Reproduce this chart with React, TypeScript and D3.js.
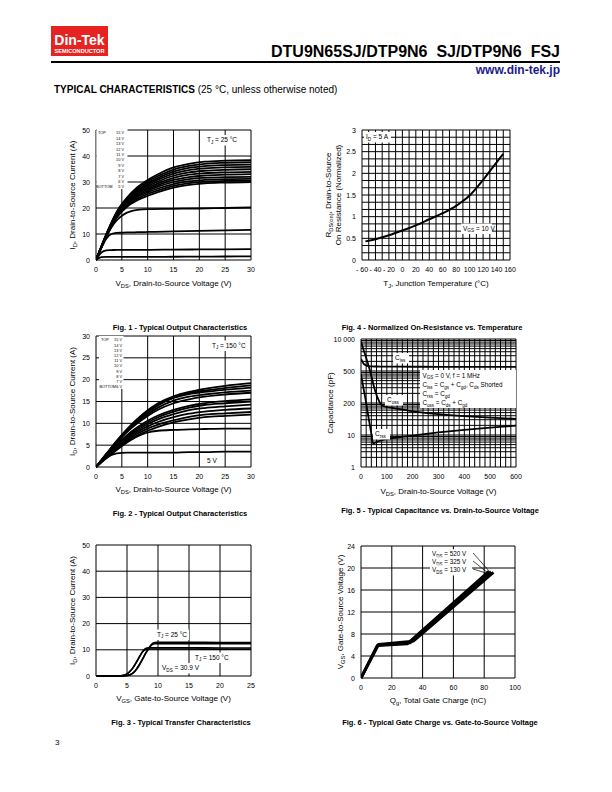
import React from "react";
import * as d3 from "d3";

const FONT = "'Liberation Sans', Arial, Helvetica, sans-serif";

// ---------------- Fig. 1 data (TJ = 25 °C output characteristics) ----------------
const fig1VdsA = [0, 2, 4, 6, 8, 10, 12, 15, 18, 21, 25, 30];
const fig1Bundle = [
  [0, 10, 18.5, 24, 28, 30.8, 33, 35.6, 37, 37.8, 38.2, 38.4],
  [0, 9.9, 18.3, 23.7, 27.5, 30.2, 32.3, 34.8, 36.2, 37, 37.4, 37.6],
  [0, 9.8, 18.1, 23.4, 27.1, 29.6, 31.6, 34, 35.4, 36.1, 36.5, 36.7],
  [0, 9.7, 17.9, 23.1, 26.6, 29, 30.9, 33.2, 34.6, 35.2, 35.6, 35.8],
  [0, 9.6, 17.7, 22.8, 26.2, 28.4, 30.2, 32.4, 33.7, 34.3, 34.7, 34.9],
  [0, 9.5, 17.5, 22.5, 25.7, 27.8, 29.5, 31.6, 32.8, 33.4, 33.7, 33.9],
  [0, 9.4, 17.3, 22.1, 25.2, 27.2, 28.8, 30.8, 31.9, 32.5, 32.8, 33],
  [0, 9.3, 17.1, 21.7, 24.7, 26.6, 28.2, 30, 31.1, 31.6, 31.9, 32],
  [0, 9.2, 16.9, 21.3, 24.2, 26, 27.5, 29.2, 30.3, 30.8, 31.1, 31.2],
  [0, 9.1, 16.6, 20.9, 23.6, 25.4, 26.8, 28.5, 29.6, 30.1, 30.4, 30.5],
  [0, 9, 16.3, 20.5, 23, 24.7, 26.1, 27.8, 28.9, 29.5, 29.8, 30],
];
const fig1VdsB = [0, 1, 2, 3, 4, 5, 6, 7, 8, 9, 10, 15, 20, 25, 30];
const fig1Low = [
  [0, 4.6, 9, 12.6, 15.2, 17, 18.2, 18.9, 19.3, 19.5, 19.6, 19.7, 19.8, 20, 20.2],
  [0, 4.5, 8.2, 10, 10.4, 10.5, 10.6, 10.6, 10.7, 10.7, 10.8, 11, 11.2, 11.4, 11.6],
  [0, 2.8, 3.7, 3.8, 3.9, 3.9, 3.9, 3.9, 3.9, 3.9, 3.9, 4, 4.05, 4.1, 4.2],
  [0, 1.1, 1.2, 1.2, 1.2, 1.2, 1.2, 1.2, 1.2, 1.2, 1.2, 1.25, 1.3, 1.35, 1.4],
];
const fig1XTicks = [0, 5, 10, 15, 20, 25, 30];
const fig1YTicks = [0, 10, 20, 30, 40, 50];
const fig1Legend = ["15 V", "14 V", "13 V", "12 V", "11 V", "10 V", "9 V", "8 V", "7 V", "6 V", "5 V"];

// ---------------- Fig. 2 data (TJ = 150 °C) ----------------
const fig2Vds = [0, 2, 4, 6, 8, 10, 12, 15, 18, 21, 25, 30];
const fig2Curves = [
  [0, 3, 6, 8.7, 11, 13, 14.6, 16.2, 17.2, 17.9, 18.6, 19.2],
  [0, 3, 5.9, 8.5, 10.8, 12.7, 14.3, 15.9, 16.9, 17.5, 18.1, 18.7],
  [0, 2.9, 5.8, 8.4, 10.6, 12.5, 14.1, 15.8, 16.7, 17.2, 17.7, 18.2],
  [0, 2.9, 5.7, 8.2, 10.3, 12.1, 13.6, 15.2, 16.1, 16.6, 17.1, 17.5],
  [0, 2.8, 5.5, 8, 10, 11.7, 13.1, 14.6, 15.5, 16.1, 16.6, 17],
  [0, 2.6, 5.1, 7.3, 9.1, 10.6, 11.8, 13.1, 14, 14.6, 15.1, 15.5],
  [0, 2.5, 4.9, 7, 8.8, 10.2, 11.4, 12.7, 13.6, 14.2, 14.6, 15],
  [0, 2.4, 4.7, 6.7, 8.4, 9.8, 10.9, 12.1, 13, 13.5, 13.9, 14.3],
  [0, 2.3, 4.5, 6.4, 8, 9.3, 10.3, 11.4, 12.2, 12.7, 13.1, 13.4],
  [0, 2.2, 4.3, 6.1, 7.6, 8.8, 9.7, 10.7, 11.5, 12, 12.3, 12.6],
  [0, 2.1, 4.1, 5.8, 7.2, 8.3, 9.2, 10.2, 10.9, 11.4, 11.7, 12],
  [0, 2, 3.9, 5.6, 7, 7.9, 8.3, 8.5, 8.6, 8.7, 8.8, 8.8],
  [0, 2.1, 3.1, 3.3, 3.3, 3.3, 3.3, 3.3, 3.4, 3.4, 3.5, 3.5],
];
const fig2XTicks = [0, 5, 10, 15, 20, 25, 30];
const fig2YTicks = [0, 5, 10, 15, 20, 25, 30];
const fig2Legend = ["15 V", "14 V", "13 V", "12 V", "11 V", "10 V", "9 V", "8 V", "7 V", "6 V"];

// ---------------- Fig. 3 data (transfer) ----------------
const fig3Vgs = [0, 3, 4, 4.5, 5, 5.5, 6, 6.5, 7, 7.5, 8, 8.5, 9, 9.5, 10, 15, 20, 25];
const fig3Id25a = [0, 0, 0, 0.05, 0.2, 0.5, 1.2, 2.5, 4.3, 6.4, 8.6, 10.6, 12.2, 12.8, 12.9, 12.9, 12.8, 12.8];
const fig3Id25b = [0, 0, 0, 0.05, 0.2, 0.5, 1.2, 2.5, 4.3, 6.4, 8.6, 10.5, 11.9, 12.3, 12.3, 12.3, 12.3, 12.3];
const fig3Id150a = [0, 0, 0.1, 0.3, 0.8, 1.8, 3.3, 5.2, 7.3, 9.3, 10.5, 10.8, 10.8, 10.8, 10.8, 10.8, 10.7, 10.7];
const fig3Id150b = [0, 0, 0.1, 0.3, 0.8, 1.8, 3.3, 5.2, 7.3, 9.2, 10.1, 10.3, 10.3, 10.3, 10.3, 10.3, 10.2, 10.2];
const fig3XTicks = [0, 5, 10, 15, 20, 25];
const fig3YTicks = [0, 10, 20, 30, 40, 50];

// ---------------- Fig. 4 data (normalized RDS(on)) ----------------
const fig4Tj = [-55, -40, -20, 0, 20, 40, 60, 80, 90, 100, 110, 120, 130, 140, 150];
const fig4Rds = [0.43, 0.48, 0.57, 0.68, 0.8, 0.94, 1.08, 1.25, 1.36, 1.49, 1.66, 1.85, 2.05, 2.25, 2.45];
const fig4XTicks = [-60, -40, -20, 0, 20, 40, 60, 80, 100, 120, 140, 160];
const fig4XLabels = ["- 60", "- 40", "- 20", "0", "20", "40", "60", "80", "100", "120", "140", "160"];
const fig4YTicks = [0, 0.5, 1, 1.5, 2, 2.5, 3];
const fig4YLabels = ["0", "0.5", "1", "1.5", "2", "2.5", "3"];

// ---------------- Fig. 5 data (capacitance) ----------------
const fig5CissV = [0, 5, 10, 20, 30, 40, 60, 100, 200, 300, 400, 500, 600];
const fig5Ciss = [2400, 2000, 1700, 1500, 1420, 1390, 1380, 1370, 1360, 1350, 1350, 1350, 1350];
const fig5CossV = [0, 10, 20, 30, 40, 50, 60, 70, 80, 100, 130, 200, 300, 400, 500, 600];
const fig5Coss = [8500, 4500, 2600, 1400, 700, 330, 180, 115, 85, 75, 68, 55, 45, 39, 35, 32];
const fig5CrssV = [0, 10, 20, 30, 40, 47, 55, 70, 100, 150, 200, 300, 400, 500, 600];
const fig5Crss = [800, 280, 100, 32, 11, 5.5, 5.8, 6.5, 7.5, 8.6, 9.6, 12, 14.5, 17, 19.5];
const fig5XTicks = [0, 100, 200, 300, 400, 500, 600];
const fig5YTicks = [1, 10, 100, 1000, 10000];
const fig5YLabels = ["1", "10", "200", "500", "10 000"];

// ---------------- Fig. 6 data (gate charge) ----------------
const fig6Qg130 = [0, 10.5, 30, 83];
const fig6Vgs130 = [0, 5.9, 6.2, 19.4];
const fig6Qg325 = [0, 11, 32, 84.5];
const fig6Vgs325 = [0, 6, 6.4, 19.3];
const fig6Qg520 = [0, 11.5, 34, 86];
const fig6Vgs520 = [0, 6.1, 6.7, 19.2];
const fig6XTicks = [0, 20, 40, 60, 80, 100];
const fig6YTicks = [0, 4, 8, 12, 16, 20, 24];

// ---------------- helpers ----------------
type Part = string | { s: string };

function Rich(props: {
  parts: Part[];
  x: number;
  y: number;
  fs: number;
  anchor?: "start" | "middle" | "end";
  weight?: string;
  transform?: string;
  fill?: string;
}) {
  const { parts, x, y, fs, anchor = "start", weight = "normal", transform, fill = "#000" } = props;
  const els: React.ReactNode[] = [];
  let shifted = false;
  parts.forEach((p, i) => {
    if (typeof p === "string") {
      els.push(
        <tspan key={i} dy={shifted ? -fs * 0.3 : undefined} fontSize={fs}>
          {p}
        </tspan>
      );
      shifted = false;
    } else {
      els.push(
        <tspan key={i} dy={shifted ? undefined : fs * 0.3} fontSize={fs * 0.72}>
          {p.s}
        </tspan>
      );
      shifted = true;
    }
  });
  return (
    <text x={x} y={y} fontSize={fs} fontFamily={FONT} textAnchor={anchor} fontWeight={weight} transform={transform} fill={fill}>
      {els}
    </text>
  );
}

function BoxLabel(props: { parts: Part[]; x: number; y: number; fs: number; w: number }) {
  const { parts, x, y, fs, w } = props;
  return (
    <g>
      <rect x={x - 2} y={y - fs - 0.5} width={w} height={fs + 4} fill="#fff" />
      <Rich parts={parts} x={x} y={y} fs={fs} />
    </g>
  );
}

type Series = { x: number[]; y: number[] };

type PlotProps = {
  id: string;
  left: number;
  right: number;
  top: number;
  bottom: number;
  xDomain: [number, number];
  yDomain: [number, number];
  yLog?: boolean;
  xGrid: number[];
  yGrid: number[];
  xTicks: number[];
  xLabels?: string[];
  yTicks: number[];
  yLabels?: string[];
  series: Series[];
  lineWidth: number;
  curve?: d3.CurveFactory;
  xTitle: Part[];
  yTitles: Part[][];
  yTitleX: number[];
  caption: string;
  captionX: number;
  captionY: number;
  xTitleY: number;
  overlay?: React.ReactNode;
};

function Plot(p: PlotProps) {
  const x = d3.scaleLinear().domain(p.xDomain).range([p.left, p.right]);
  const y = (p.yLog ? d3.scaleLog() : d3.scaleLinear()).domain(p.yDomain).range([p.bottom, p.top]) as d3.ScaleContinuousNumeric<number, number>;
  const line = d3
    .line<[number, number]>()
    .x((d) => x(d[0]))
    .y((d) => y(d[1]))
    .curve(p.curve || d3.curveMonotoneX);
  const cx = (p.left + p.right) / 2;
  const cy = (p.top + p.bottom) / 2;
  return (
    <g>
      <defs>
        <clipPath id={p.id}>
          <rect x={p.left} y={p.top - 1} width={p.right - p.left + 1} height={p.bottom - p.top + 2} />
        </clipPath>
      </defs>
      {p.xGrid.map((v, i) => (
        <line key={"xg" + i} x1={x(v)} x2={x(v)} y1={p.top} y2={p.bottom} stroke="#000" strokeWidth={1} />
      ))}
      {p.yGrid.map((v, i) => (
        <line key={"yg" + i} x1={p.left} x2={p.right} y1={y(v)} y2={y(v)} stroke="#000" strokeWidth={1} />
      ))}
      <g clipPath={`url(#${p.id})`}>
        {p.series.map((s, i) => (
          <path
            key={"s" + i}
            d={line(s.x.map((v, j) => [v, s.y[j]] as [number, number])) || ""}
            fill="none"
            stroke="#000"
            strokeWidth={p.lineWidth}
            strokeLinejoin="round"
          />
        ))}
      </g>
      {p.overlay}
      {p.xTicks.map((v, i) => (
        <text key={"xt" + i} x={x(v)} y={p.bottom + 12} fontSize={7} fontFamily={FONT} textAnchor="middle">
          {p.xLabels ? p.xLabels[i] : String(v)}
        </text>
      ))}
      {p.yTicks.map((v, i) => (
        <text key={"yt" + i} x={p.left - 6} y={y(v) + 2.5} fontSize={7} fontFamily={FONT} textAnchor="end">
          {p.yLabels ? p.yLabels[i] : String(v)}
        </text>
      ))}
      <Rich parts={p.xTitle} x={cx} y={p.xTitleY} fs={8} anchor="middle" />
      {p.yTitles.map((t, i) => (
        <Rich key={"ytl" + i} parts={t} x={0} y={0} fs={8} anchor="middle" transform={`translate(${p.yTitleX[i]},${cy}) rotate(-90)`} />
      ))}
      <text x={p.captionX} y={p.captionY} fontSize={7.5} fontFamily={FONT} fontWeight="bold" textAnchor="middle">
        {p.caption}
      </text>
    </g>
  );
}

const rng = (a: number, b: number, s: number) => d3.range(a, b + s / 2, s);

function logGrid(lo: number, hi: number) {
  const out: number[] = [];
  for (let d = lo; d < hi; d *= 10) for (let k = 1; k < 10; k++) out.push(d * k);
  out.push(hi);
  return out;
}

function Legend(props: { labels: string[]; y0: number; step: number; valX: number; boxX: number; boxW: number; topX: number; botX: number }) {
  const { labels, y0, step, valX, boxX, boxW, topX, botX } = props;
  const n = labels.length;
  const fs = 3.9;
  return (
    <g fontFamily={FONT} fontSize={fs}>
      <rect x={boxX} y={y0 - 4} width={boxW} height={(n - 1) * step + 6} fill="#fff" />
      <text x={topX} y={y0 + 1.4}>TOP</text>
      <text x={botX} y={y0 + (n - 1) * step + 1.4}>BOTTOM</text>
      {labels.map((l, i) => (
        <text key={i} x={valX} y={y0 + i * step + 1.4} textAnchor="end">
          {l}
        </text>
      ))}
    </g>
  );
}

export default function App() {
  const idLabel: Part[] = ["I", { s: "D" }, ", Drain-to-Source Current (A)"];
  const vdsLabel: Part[] = ["V", { s: "DS" }, ", Drain-to-Source Voltage (V)"];
  return (
    <svg width={612} height={792} style={{ position: "absolute", left: 0, top: 0, background: "#fff" }} fontFamily={FONT}>
      <rect x={0} y={0} width={612} height={792} fill="#fff" />
      {/* header */}
      <rect x={51} y={26} width={57} height={30} fill="#e52421" />
      <text x={79.5} y={45} fill="#fff" fontSize={14} fontWeight="bold" textAnchor="middle" fontFamily={FONT}>
        Din-Tek
      </text>
      <text x={79.5} y={53} fill="#fff" fontSize={5.6} fontWeight="bold" textAnchor="middle" fontFamily={FONT}>
        SEMICONDUCTOR
      </text>
      <text x={560} y={57} fontSize={16} fontWeight="bold" textAnchor="end" fontFamily={FONT} style={{ whiteSpace: "pre" }}>
        {"DTU9N65SJ/DTP9N6  SJ/DTP9N6  FSJ"}
      </text>
      <line x1={51} x2={560} y1={62} y2={62} stroke="#000" strokeWidth={2} />
      <text x={560} y={74} fontSize={12} fontWeight="bold" textAnchor="end" fill="#1b1b8a" fontFamily={FONT}>
        www.din-tek.jp
      </text>
      <text x={54} y={93} fontSize={10} fontFamily={FONT}>
        <tspan fontWeight="bold">TYPICAL CHARACTERISTICS</tspan>
        <tspan> (25 °C, unless otherwise noted)</tspan>
      </text>
      <text x={55} y={745} fontSize={8} fontFamily={FONT}>
        3
      </text>

      {/* Fig. 1 */}
      <Plot
        id="c1"
        left={96}
        right={251}
        top={130}
        bottom={260}
        xDomain={[0, 30]}
        yDomain={[0, 50]}
        xGrid={rng(0, 30, 5)}
        yGrid={rng(0, 50, 10)}
        xTicks={fig1XTicks}
        yTicks={fig1YTicks}
        series={[
          ...fig1Bundle.map((c) => ({ x: fig1VdsA, y: c })),
          ...fig1Low.map((c) => ({ x: fig1VdsB, y: c })),
        ]}
        lineWidth={1.8}
        xTitle={vdsLabel}
        yTitles={[idLabel]}
        yTitleX={[75]}
        xTitleY={286}
        caption="Fig. 1 - Typical Output Characteristics"
        captionX={180}
        captionY={330}
        overlay={
          <g>
            <Legend labels={fig1Legend} y0={133} step={5.4} valX={124} boxX={96.5} boxW={31} topX={98} botX={96} />
            <BoxLabel parts={["T", { s: "J" }, " = 25 °C"]} x={207} y={142} fs={6.5} w={40} />
          </g>
        }
      />

      {/* Fig. 4 */}
      <Plot
        id="c4"
        left={362}
        right={510}
        top={130}
        bottom={260}
        xDomain={[-60, 160]}
        yDomain={[0, 3]}
        xGrid={rng(-60, 160, 10)}
        yGrid={d3.range(0, 19).map((i) => i / 6)}
        xTicks={fig4XTicks}
        xLabels={fig4XLabels}
        yTicks={fig4YTicks}
        yLabels={fig4YLabels}
        series={[{ x: fig4Tj, y: fig4Rds }]}
        lineWidth={2}
        xTitle={["T", { s: "J" }, ", Junction Temperature (°C)"]}
        yTitles={[["R", { s: "DS(on)" }, ", Drain-to-Source"], ["On Resistance (Normalized)"]]}
        yTitleX={[331, 341]}
        xTitleY={286}
        caption="Fig. 4 - Normalized On-Resistance vs. Temperature"
        captionX={432}
        captionY={330}
        overlay={
          <g>
            <BoxLabel parts={["I", { s: "D" }, " = 5 A"]} x={366} y={139} fs={6.5} w={27} />
            <BoxLabel parts={["V", { s: "GS" }, " = 10 V"]} x={463} y={230.5} fs={6.5} w={31} />
          </g>
        }
      />

      {/* Fig. 2 */}
      <Plot
        id="c2"
        left={96}
        right={251}
        top={336}
        bottom={467}
        xDomain={[0, 30]}
        yDomain={[0, 30]}
        xGrid={rng(0, 30, 5)}
        yGrid={rng(0, 30, 5)}
        xTicks={fig2XTicks}
        yTicks={fig2YTicks}
        series={fig2Curves.map((c) => ({ x: fig2Vds, y: c }))}
        lineWidth={1.8}
        xTitle={vdsLabel}
        yTitles={[idLabel]}
        yTitleX={[75]}
        xTitleY={492}
        caption="Fig. 2 - Typical Output Characteristics"
        captionX={180}
        captionY={516}
        overlay={
          <g>
            <Legend labels={fig2Legend} y0={340} step={5.2} valX={122} boxX={99} boxW={24.5} topX={101} botX={99.5} />
            <BoxLabel parts={["T", { s: "J" }, " = 150 °C"]} x={212} y={347.5} fs={6.5} w={37} />
            <BoxLabel parts={["5 V"]} x={207} y={462.5} fs={6.5} w={14} />
          </g>
        }
      />

      {/* Fig. 5 */}
      <Plot
        id="c5"
        left={361}
        right={516}
        top={339}
        bottom={467}
        xDomain={[0, 600]}
        yDomain={[1, 10000]}
        yLog
        xGrid={rng(0, 600, 20)}
        yGrid={logGrid(1, 10000)}
        xTicks={fig5XTicks}
        yTicks={fig5YTicks}
        yLabels={fig5YLabels}
        series={[
          { x: fig5CissV, y: fig5Ciss },
          { x: fig5CossV, y: fig5Coss },
          { x: fig5CrssV, y: fig5Crss },
        ]}
        lineWidth={1.8}
        xTitle={vdsLabel}
        yTitles={[["Capacitance (pF)"]]}
        yTitleX={[333]}
        xTitleY={494}
        caption="Fig. 5 - Typical Capacitance vs. Drain-to-Source Voltage"
        captionX={440}
        captionY={513}
        overlay={
          <g>
            <BoxLabel parts={["C", { s: "iss" }]} x={395} y={360} fs={6.5} w={16} />
            <BoxLabel parts={["C", { s: "oss" }]} x={387} y={402} fs={6.5} w={18} />
            <BoxLabel parts={["C", { s: "rss" }]} x={375} y={436} fs={6.5} w={17} />
            <rect x={420} y={370} width={96} height={38} fill="#fff" />
            <Rich parts={["V", { s: "GS" }, " = 0 V, f = 1 MHz"]} x={422.5} y={377.5} fs={6.3} />
            <Rich parts={["C", { s: "iss" }, " = C", { s: "gs" }, " + C", { s: "gd" }, ", C", { s: "ds" }, " Shorted"]} x={422.5} y={387} fs={6.3} />
            <Rich parts={["C", { s: "rss" }, " = C", { s: "gd" }]} x={422.5} y={396} fs={6.3} />
            <Rich parts={["C", { s: "oss" }, " = C", { s: "ds" }, " + C", { s: "gd" }]} x={422.5} y={405} fs={6.3} />
          </g>
        }
      />

      {/* Fig. 3 */}
      <Plot
        id="c3"
        left={96}
        right={251}
        top={545}
        bottom={676}
        xDomain={[0, 25]}
        yDomain={[0, 50]}
        xGrid={rng(0, 25, 5)}
        yGrid={rng(0, 50, 10)}
        xTicks={fig3XTicks}
        yTicks={fig3YTicks}
        series={[
          { x: fig3Vgs, y: fig3Id25a },
          { x: fig3Vgs, y: fig3Id25b },
          { x: fig3Vgs, y: fig3Id150a },
          { x: fig3Vgs, y: fig3Id150b },
        ]}
        lineWidth={1.6}
        xTitle={["V", { s: "GS" }, ", Gate-to-Source Voltage (V)"]}
        yTitles={[idLabel]}
        yTitleX={[75]}
        xTitleY={701}
        caption="Fig. 3 - Typical Transfer Characteristics"
        captionX={181}
        captionY={725}
        overlay={
          <g>
            <BoxLabel parts={["T", { s: "J" }, " = 25 °C"]} x={157} y={636.5} fs={6.5} w={34} />
            <BoxLabel parts={["T", { s: "J" }, " = 150 °C"]} x={195} y={659.5} fs={6.5} w={39} />
            <BoxLabel parts={["V", { s: "DS" }, " = 30.9 V"]} x={162} y={670} fs={6.5} w={40} />
          </g>
        }
      />

      {/* Fig. 6 */}
      <Plot
        id="c6"
        left={361}
        right={515}
        top={546}
        bottom={678}
        xDomain={[0, 100]}
        yDomain={[0, 24]}
        xGrid={rng(0, 100, 20)}
        yGrid={rng(0, 24, 4)}
        xTicks={fig6XTicks}
        yTicks={fig6YTicks}
        series={[
          { x: fig6Qg130, y: fig6Vgs130 },
          { x: fig6Qg325, y: fig6Vgs325 },
          { x: fig6Qg520, y: fig6Vgs520 },
        ]}
        curve={d3.curveLinear}
        lineWidth={2.8}
        xTitle={["Q", { s: "g" }, ", Total Gate Charge (nC)"]}
        yTitles={[["V", { s: "GS" }, ", Gate-to-Source Voltage (V)"]]}
        yTitleX={[343]}
        xTitleY={703}
        caption="Fig. 6 - Typical Gate Charge vs. Gate-to-Source Voltage"
        captionX={440}
        captionY={725}
        overlay={
          <g>
            <BoxLabel parts={["V", { s: "DS" }, " = 520 V"]} x={432} y={556} fs={6.3} w={42} />
            <BoxLabel parts={["V", { s: "DS" }, " = 325 V"]} x={432} y={564} fs={6.3} w={42} />
            <BoxLabel parts={["V", { s: "DS" }, " = 130 V"]} x={432} y={572} fs={6.3} w={42} />
            <line x1={473} y1={553} x2={490} y2={572} stroke="#000" strokeWidth={0.7} />
            <line x1={473} y1={561} x2={488} y2={573} stroke="#000" strokeWidth={0.7} />
            <line x1={473} y1={569} x2={486} y2={573} stroke="#000" strokeWidth={0.7} />
          </g>
        }
      />
    </svg>
  );
}
